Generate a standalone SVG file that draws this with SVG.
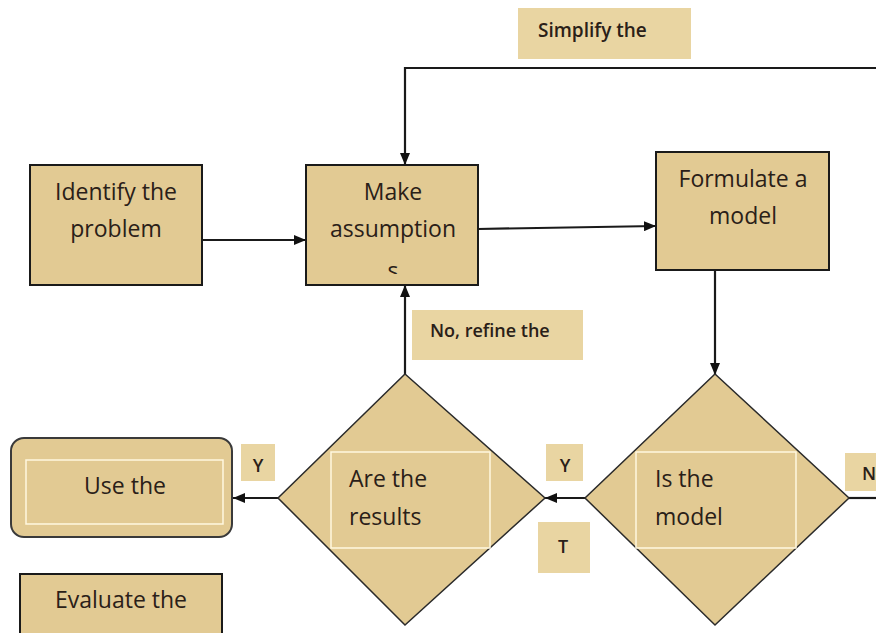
<svg xmlns="http://www.w3.org/2000/svg" width="876" height="633" viewBox="0 0 876 633">
<defs>
<marker id="arr" viewBox="0 0 12 10" refX="12" refY="5" markerWidth="12" markerHeight="10" markerUnits="userSpaceOnUse" orient="auto">
<path d="M0,0 L12,5 L0,10 z" fill="#111"/>
</marker>
<clipPath id="clipMake"><rect x="306" y="165" width="172" height="109"/></clipPath>
</defs>
<style>
.box{fill:#e2ca93;stroke:#1a1a1a;stroke-width:2}
.dia{fill:#e2ca93;stroke:#2a2a2a;stroke-width:1.5}
.lbl{fill:#e9d5a2}
.inner{fill:none;stroke:#fff8e0;stroke-width:1.5}
.t{font-family:"Open Sans","Liberation Sans",sans-serif;font-size:23px;fill:#2a2018}
.s{font-family:"Open Sans","Liberation Sans",sans-serif;font-size:18px;font-weight:600;fill:#2a2018}
.c{text-anchor:middle}
.conn{fill:none;stroke:#1a1a1a;stroke-width:2.2}
</style>
<rect width="876" height="633" fill="#ffffff"/>

<g id="connectors">
<path class="conn" d="M876,68 H405 V165" marker-end="url(#arr)"/>
<path class="conn" d="M202,240 H306" marker-end="url(#arr)"/>
<path class="conn" d="M478,229 L656,226" marker-end="url(#arr)"/>
<path class="conn" d="M715,270 V375" marker-end="url(#arr)"/>
<path class="conn" d="M405,375 V285" marker-end="url(#arr)"/>
<path class="conn" d="M585,498 H545" marker-end="url(#arr)"/>
<path class="conn" d="M278,498 H233" marker-end="url(#arr)"/>
<path class="conn" d="M849,498 H876"/>
</g>

<g id="simplify-label">
<rect class="lbl" x="518" y="8" width="173" height="51"/>
<text class="s" x="538" y="37" style="font-size:19px">Simplify the</text>
</g>

<g id="identify">
<rect class="box" x="30" y="165" width="172" height="120"/>
<text class="t c" x="116" y="200">Identify the</text>
<text class="t c" x="116" y="237">problem</text>
</g>

<g id="make-assumptions">
<rect class="box" x="306" y="165" width="172" height="120"/>
<text class="t c" x="393" y="200">Make</text>
<text class="t c" x="393" y="237">assumption</text>
<text class="t c" x="393" y="279" clip-path="url(#clipMake)">s</text>
</g>

<g id="formulate">
<rect class="box" x="656" y="152" width="173" height="118"/>
<text class="t c" x="743" y="187">Formulate a</text>
<text class="t c" x="743" y="224">model</text>
</g>

<g id="refine-label">
<rect class="lbl" x="412" y="310" width="171" height="50"/>
<text class="s" x="430" y="337">No, refine the</text>
</g>

<g id="are-results">
<polygon class="dia" points="405,374 545,498 405,625 278,498"/>
<rect class="inner" x="331" y="452" width="159" height="96"/>
<text class="t" x="349" y="487">Are the</text>
<text class="t" x="349" y="525">results</text>
</g>

<g id="is-model">
<polygon class="dia" points="715,374 849,498 715,625 585,498"/>
<rect class="inner" x="636" y="452" width="160" height="96"/>
<text class="t" x="655" y="487">Is the</text>
<text class="t" x="655" y="525">model</text>
</g>

<g id="use-the">
<rect x="11" y="438" width="221" height="99" rx="13" fill="#e2ca93" stroke="#3a3a3a" stroke-width="2"/>
<rect class="inner" x="26" y="460" width="197" height="64"/>
<text class="t c" x="125" y="494">Use the</text>
</g>

<g id="y-left">
<rect class="lbl" x="241" y="444" width="34" height="37"/>
<text class="s c" x="258" y="472">Y</text>
</g>

<g id="y-right">
<rect class="lbl" x="546" y="444" width="37" height="37"/>
<text class="s c" x="565" y="472">Y</text>
</g>

<g id="t-label">
<rect class="lbl" x="538" y="522" width="52" height="51"/>
<text class="s c" x="563" y="553">T</text>
</g>

<g id="n-label">
<rect class="lbl" x="845" y="453" width="31" height="38"/>
<text class="s" x="862" y="480">N</text>
</g>

<g id="evaluate">
<rect class="box" x="20" y="574" width="202" height="70"/>
<text class="t c" x="121" y="608">Evaluate the</text>
</g>
</svg>
